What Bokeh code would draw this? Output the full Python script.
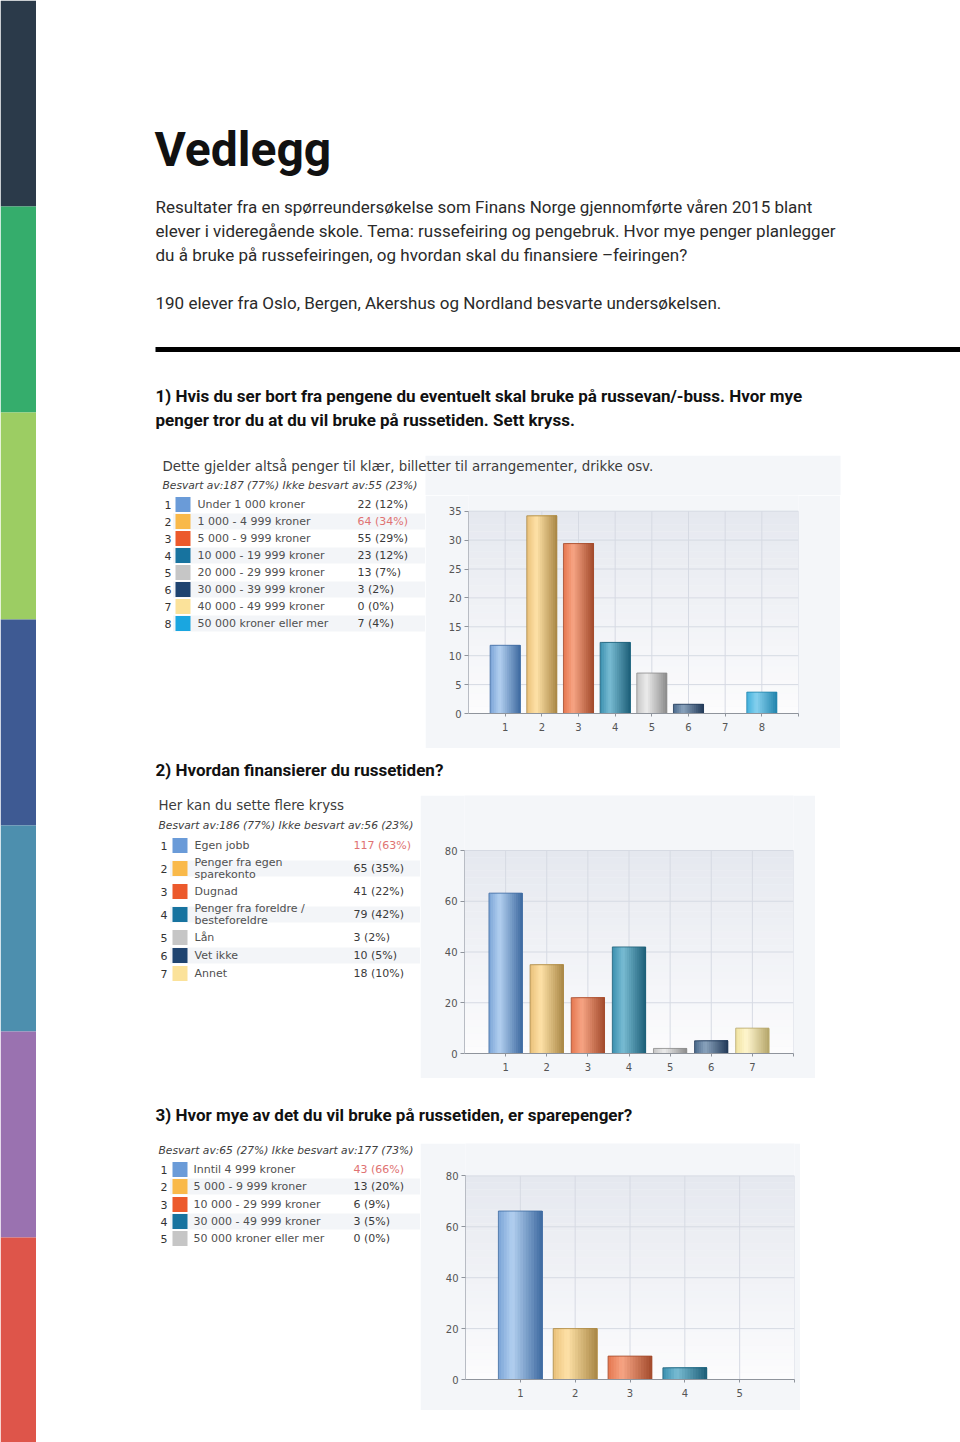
import numpy as np
from bokeh.plotting import figure
from bokeh.layouts import row, column
from bokeh.models import Range1d, FixedTicker
from bokeh.core.properties import value
from bokeh.embed import file_html
from bokeh.resources import INLINE

# ------------------------------------------------------------------ data
page_title = "Vedlegg"
intro_lines = [
    "Resultater fra en spørreundersøkelse som Finans Norge gjennomførte våren 2015 blant",
    "elever i videregående skole. Tema: russefeiring og pengebruk. Hvor mye penger planlegger",
    "du å bruke på russefeiringen, og hvordan skal du finansiere –feiringen?",
]
intro_note = "190 elever fra Oslo, Bergen, Akershus og Nordland besvarte undersøkelsen."
q1_lines = [
    "1) Hvis du ser bort fra pengene du eventuelt skal bruke på russevan/-buss. Hvor mye",
    "penger tror du at du vil bruke på russetiden. Sett kryss.",
]
q2_text = "2) Hvordan finansierer du russetiden?"
q3_text = "3) Hvor mye av det du vil bruke på russetiden, er sparepenger?"

stripe_colors = ["#2b3a4a", "#35ad6c", "#9ccd63", "#3e5a93", "#4d8fae", "#9a72b0", "#de554a"]

c1_title = "Dette gjelder altså penger til klær, billetter til arrangementer, drikke osv."
c1_sub = "Besvart av:187 (77%) Ikke besvart av:55 (23%)"
c1_labels = ["Under 1 000 kroner", "1 000 - 4 999 kroner", "5 000 - 9 999 kroner",
             "10 000 - 19 999 kroner", "20 000 - 29 999 kroner", "30 000 - 39 999 kroner",
             "40 000 - 49 999 kroner", "50 000 kroner eller mer"]
c1_counts = ["22 (12%)", "64 (34%)", "55 (29%)", "23 (12%)", "13 (7%)", "3 (2%)", "0 (0%)", "7 (4%)"]
c1_values = [11.8, 34.2, 29.4, 12.3, 7.0, 1.6, 0.0, 3.7]
c1_yticks = [0, 5, 10, 15, 20, 25, 30, 35]

c2_title = "Her kan du sette flere kryss"
c2_sub = "Besvart av:186 (77%) Ikke besvart av:56 (23%)"
c2_labels = ["Egen jobb", "Penger fra egen\nsparekonto", "Dugnad",
             "Penger fra foreldre /\nbesteforeldre", "Lån", "Vet ikke", "Annet"]
c2_counts = ["117 (63%)", "65 (35%)", "41 (22%)", "79 (42%)", "3 (2%)", "10 (5%)", "18 (10%)"]
c2_values = [63.2, 35.0, 22.0, 42.0, 2.0, 5.0, 10.0]
c2_yticks = [0, 20, 40, 60, 80]

c3_sub = "Besvart av:65 (27%) Ikke besvart av:177 (73%)"
c3_labels = ["Inntil 4 999 kroner", "5 000 - 9 999 kroner", "10 000 - 29 999 kroner",
             "30 000 - 49 999 kroner", "50 000 kroner eller mer"]
c3_counts = ["43 (66%)", "13 (20%)", "6 (9%)", "3 (5%)", "0 (0%)"]
c3_values = [66.2, 20.0, 9.2, 4.6, 0.0]
c3_yticks = [0, 20, 40, 60, 80]

# series colours (legend swatch, bar mid, bar highlight, bar shadow)
swatch = ["#6a9bd8", "#f9b94a", "#ec5a2c", "#17739f", "#c6c6c6", "#1f4470", "#fbe29a", "#1aa6e0"]
bar_mid = ["#7ba4d6", "#e9c07a", "#e5774f", "#3b90b0", "#c4c4c4", "#4b6a8c", "#f0e2a0", "#42b0dc"]
bar_light = ["#b3d0f0", "#ffe2a8", "#f7a584", "#79bcd3", "#ececec", "#8aa3bd", "#fff6cf", "#86d1ee"]
bar_dark = ["#3e6aa0", "#a98745", "#a24a2c", "#1d5f78", "#8c8c8c", "#223a58", "#b5a66a", "#2284ad"]

# ------------------------------------------------------------------ helpers
BODY = "Roboto"
UI = "DejaVu Sans"
PANEL = "#f4f6f9"


def blank(w, h, x0, x1, y0, y1, bb=0, bg="white"):
    p = figure(width=w, height=h, x_range=Range1d(x0, x1), y_range=Range1d(y1, y0),
               output_backend="svg", toolbar_location=None, min_border=0,
               min_border_bottom=bb, x_axis_location=None, y_axis_location=None)
    p.grid.visible = False
    p.outline_line_color = None
    p.background_fill_color = bg
    p.border_fill_color = bg
    return p


def txt(p, x, y, s, size, color, font, style="normal", align="left", baseline="middle"):
    p.text(x=[x], y=[y], text=[s], text_font=value(font), text_font_size=size,
           text_color=color, text_font_style=style, text_align=align, text_baseline=baseline)


def hexmix(a, b, t):
    a = np.array([int(a[i:i + 2], 16) for i in (1, 3, 5)], float)
    b = np.array([int(b[i:i + 2], 16) for i in (1, 3, 5)], float)
    c = a + (b - a) * t
    return "#%02x%02x%02x" % tuple(int(round(v)) for v in c)


def heading(p, title, sub, x, title_y, sub_y):
    if title:
        txt(p, x, title_y, title, "13.4px", "#3c3c3c", UI)
    txt(p, x, sub_y, sub, "10.7px", "#404040", UI, style="italic")


def table(p, labels, counts, values, row_y, xs, stripe_x1):
    nx, sx, lx, vx = xs
    top = int(np.argmax(values))
    for i, (lab, cnt) in enumerate(zip(labels, counts)):
        y = row_y[i]
        if i % 2 == 1:
            p.quad(left=[sx - 10], right=[stripe_x1], top=[y - 8], bottom=[y + 8],
                   fill_color="#f3f5f8", line_color=None)
        txt(p, nx, y, str(i + 1), "11px", "#333333", UI)
        p.rect(x=[sx], y=[y], width=15, height=15, fill_color=swatch[i], line_color=None)
        parts = lab.split("\n")
        if len(parts) == 1:
            txt(p, lx, y, lab, "11px", "#505050", UI)
        else:
            txt(p, lx, y - 6, parts[0], "11px", "#505050", UI)
            txt(p, lx, y + 6, parts[1], "11px", "#505050", UI)
        txt(p, vx, y, cnt, "11px", "#e07272" if i == top else "#3a3a3a", UI)


def bar_chart(values, yticks, width, height, bl, br, bb, px_full, bw):
    """px_full = pixel height that the top tick should reach above the zero line"""
    n = len(values)
    ymax = yticks[-1]
    frame_h = height - bb
    p = figure(width=width, height=height, x_range=Range1d(0, n + 1),
               y_range=Range1d(0, ymax * frame_h / px_full),
               output_backend="svg", toolbar_location=None,
               min_border_left=bl, min_border_right=br, min_border_top=0, min_border_bottom=bb)
    p.border_fill_color = PANEL
    p.background_fill_color = PANEL
    p.outline_line_color = None
    p.grid.visible = False
    # soft vertical gradient of the plotting area
    K = 30
    edges = np.linspace(0, ymax, K + 1)
    cols = [hexmix("#fcfcfd", "#e5e8ef", (k + 0.5) / K) for k in range(K)]
    r = p.quad(left=[0] * K, right=[n + 1] * K, bottom=edges[:-1], top=edges[1:],
               fill_color=cols, line_color=None)
    r.level = "image"
    # grid lines limited to the plotting area
    gx = list(range(1, n + 2))
    g1 = p.segment(x0=[0] * len(yticks), x1=[n + 1] * len(yticks), y0=yticks, y1=yticks,
                   line_color="#d6dae3", line_width=1)
    g2 = p.segment(x0=gx, x1=gx, y0=[0] * len(gx), y1=[ymax] * len(gx),
                   line_color="#d6dae3", line_width=1)
    g1.level = "underlay"
    g2.level = "underlay"
    # cylindrical bars: overlapping strips shaded light -> dark
    S = 16
    ls, rs, ts, cs = [], [], [], []
    for i, v in enumerate(values):
        left = i + 1 - bw / 2
        right = i + 1 + bw / 2
        for k in range(S):
            t = (k + 0.5) / S
            if t < 0.32:
                c = hexmix(bar_mid[i], bar_light[i], t / 0.32)
            else:
                c = hexmix(bar_light[i], bar_dark[i], (t - 0.32) / 0.68)
            ls.append(left + k * bw / S)
            rs.append(right)
            ts.append(v)
            cs.append(c)
    p.quad(left=ls, right=rs, top=ts, bottom=[0] * len(ts), fill_color=cs, line_color=None)
    p.vbar(x=list(range(1, n + 1)), width=bw, top=values, bottom=0, fill_color=None,
           line_color=[bar_dark[i] for i in range(n)], line_width=1, line_alpha=0.8)
    # axes
    p.xaxis.ticker = FixedTicker(ticks=gx)
    p.xaxis.major_label_overrides = {n + 1: ""}
    p.yaxis.ticker = FixedTicker(ticks=yticks)
    p.yaxis.bounds = (0, ymax)
    for ax in (p.xaxis[0], p.yaxis[0]):
        ax.axis_line_color = "#8f949c"
        ax.major_tick_line_color = "#8f949c"
        ax.minor_tick_line_color = None
        ax.major_tick_in = 0
        ax.major_label_text_font = UI
        ax.major_label_text_font_size = "10px"
        ax.major_label_text_color = "#555555"
    p.xaxis.major_tick_out = 3
    p.xaxis.major_label_standoff = 6
    p.yaxis.major_tick_out = 4
    p.yaxis.major_label_standoff = 3
    p.yaxis.axis_line_color = "#b8bcc4"
    return p


# ------------------------------------------------------------------ stripe
stripe = blank(36, 1442, 0, 36, 0, 1442)
band_edges = [0, 206, 412, 619, 825, 1031, 1237, 1442]
stripe.quad(left=[0] * 7, right=[36] * 7, top=band_edges[:-1], bottom=band_edges[1:],
            fill_color=stripe_colors, line_color=None)

# ------------------------------------------------------------------ header
head = blank(924, 455, 36, 960, 0, 455)
txt(head, 154, 149, page_title, "48px", "#111111", BODY, style="bold")
for i, line in enumerate(intro_lines):
    txt(head, 155, 206 + 24 * i, line, "17px", "#2a2a2a", BODY)
txt(head, 155, 302, intro_note, "17px", "#2a2a2a", BODY)
head.quad(left=[155], right=[960], top=[346.5], bottom=[351.5], fill_color="#000000", line_color=None)
for i, line in enumerate(q1_lines):
    txt(head, 155, 395 + 24 * i, line, "17px", "#111111", BODY, style="bold")

# ------------------------------------------------------------------ chart 1
cap1 = blank(924, 40, 36, 960, 455, 495)
cap1.quad(left=[425], right=[840], top=[455], bottom=[495], fill_color=PANEL, line_color=None)
heading(cap1, c1_title, c1_sub, 162, 466, 485)
BB1 = 35
left1 = blank(389, 253, 36, 425, 495, 748 - BB1, bb=BB1)
table(left1, c1_labels, c1_counts, c1_values,
      [504 + 17 * i for i in range(8)], (164, 182.5, 197, 357), 425)
bars1 = bar_chart(c1_values, c1_yticks, 415, 253, 43, 42, BB1, 202.3, 0.82)
right1 = blank(120, 253, 840, 960, 495, 748 - BB1, bb=BB1)

# ------------------------------------------------------------------ question 2
q2f = blank(924, 47, 36, 960, 748, 795)
txt(q2f, 155, 769, q2_text, "17px", "#111111", BODY, style="bold")

# ------------------------------------------------------------------ chart 2
BB2 = 25
left2 = blank(384, 283, 36, 420, 795, 1078 - BB2, bb=BB2)
heading(left2, c2_title, c2_sub, 158, 805, 825)
table(left2, c2_labels, c2_counts, c2_values,
      [845, 868, 891, 914, 937, 955, 973], (160, 179.5, 194, 353), 420)
bars2 = bar_chart(c2_values, c2_yticks, 395, 283, 44, 22, BB2, 203.0, 0.81)
right2 = blank(145, 283, 815, 960, 795, 1078 - BB2, bb=BB2)

# ------------------------------------------------------------------ question 3
q3f = blank(924, 65, 36, 960, 1078, 1143)
txt(q3f, 155, 1114, q3_text, "17px", "#111111", BODY, style="bold")

# ------------------------------------------------------------------ chart 3
BB3 = 31
left3 = blank(384, 267, 36, 420, 1143, 1410 - BB3, bb=BB3)
heading(left3, None, c3_sub, 158, None, 1150)
table(left3, c3_labels, c3_counts, c3_values,
      [1169, 1186, 1204, 1221, 1238], (160, 179.5, 193, 353), 420)
bars3 = bar_chart(c3_values, c3_yticks, 380, 267, 45, 6, BB3, 203.6, 0.80)
right3 = blank(160, 267, 800, 960, 1143, 1410 - BB3, bb=BB3)

bottom = blank(924, 32, 36, 960, 1410, 1442)

main = column(head, cap1, row(left1, bars1, right1), q2f, row(left2, bars2, right2), q3f,
              row(left3, bars3, right3), bottom)
page = row(stripe, main)

open("out.html", "w").write(file_html(page, INLINE))
